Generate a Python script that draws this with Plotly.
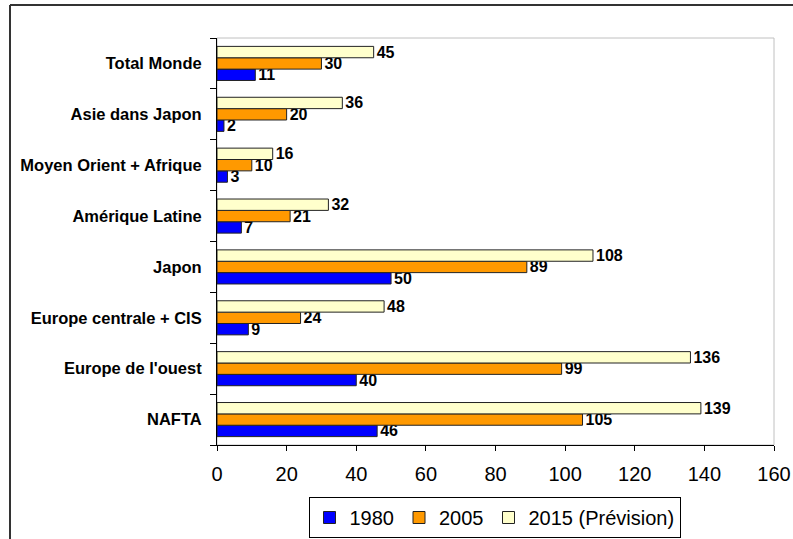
import plotly.graph_objects as go

categories = ["NAFTA", "Europe de l'ouest", "Europe centrale + CIS", "Japon",
              "Amérique Latine", "Moyen Orient + Afrique", "Asie dans Japon", "Total Monde"]
v1980 = [46, 40, 9, 50, 7, 3, 2, 11]
v2005 = [105, 99, 24, 89, 21, 10, 20, 30]
v2015 = [139, 136, 48, 108, 32, 16, 36, 45]
series_names = ["1980", "2005", "2015 (Prévision)"]
colors = ["#0000FF", "#FF9900", "#FFFFCC"]
x_ticks = [0, 20, 40, 60, 80, 100, 120, 140, 160]

W, H = 793, 539
# plot area in pixels
PX0, PX1, PY0, PY1 = 217, 774, 38, 445


def fx(x):
    return x / W


def fy(y):
    return (H - y) / H


FONT = "Arial, Liberation Sans, sans-serif"

fig = go.Figure()
for name, vals, col in zip(series_names, [v1980, v2005, v2015], colors):
    fig.add_trace(go.Bar(
        y=categories, x=vals, name=name, orientation="h",
        marker=dict(color=col, line=dict(color="#222222", width=1)),
        text=vals, textposition="outside", cliponaxis=False, constraintext="none",
        textfont=dict(family=FONT, size=16, color="black", weight="bold"),
    ))

fig.update_layout(
    width=W, height=H,
    margin=dict(l=0, r=0, t=0, b=0, pad=0),
    paper_bgcolor="white", plot_bgcolor="white",
    barmode="group", bargap=0.33, bargroupgap=0,
    font=dict(family=FONT, color="black"),
    legend=dict(orientation="h", x=fx((327 + 662) / 2), xanchor="center",
                y=fy(538), yanchor="bottom",
                bordercolor="black", borderwidth=1, traceorder="normal",
                font=dict(family=FONT, size=20, color="black"),
                itemwidth=30),
    xaxis=dict(domain=[fx(PX0), fx(PX1)], range=[0, 160], tickvals=x_ticks,
               ticks="outside", ticklen=5,
               tickcolor="black", showline=True, linecolor="black", linewidth=1,
               showgrid=False, zeroline=False, automargin=False, ticklabelstandoff=6,
               tickfont=dict(family=FONT, size=20, color="black")),
    yaxis=dict(domain=[fy(PY1), fy(PY0)], categoryorder="array", categoryarray=categories,
               ticks="outside", tickson="boundaries", ticklen=6, tickcolor="black",
               showline=True, linecolor="black", linewidth=1, showgrid=False,
               ticklabelstandoff=11, automargin=False,
               tickfont=dict(family=FONT, size=16.5, color="black", weight="bold")),
    shapes=[
        dict(type="rect", xref="paper", yref="paper",
             x0=fx(PX0), x1=fx(PX1), y0=fy(PY1), y1=fy(PY0),
             line=dict(color="#C0C0C0", width=1), layer="below"),
        dict(type="line", xref="paper", yref="paper", x0=fx(10), x1=fx(800),
             y0=fy(5), y1=fy(5), line=dict(color="#333333", width=2)),
        dict(type="line", xref="paper", yref="paper", x0=fx(10), x1=fx(10),
             y0=fy(5), y1=fy(545), line=dict(color="#333333", width=2)),
    ],
)

fig.write_html("out.html", config={"displayModeBar": False},
               post_script="document.body.style.margin='0';document.body.style.padding='0';")
